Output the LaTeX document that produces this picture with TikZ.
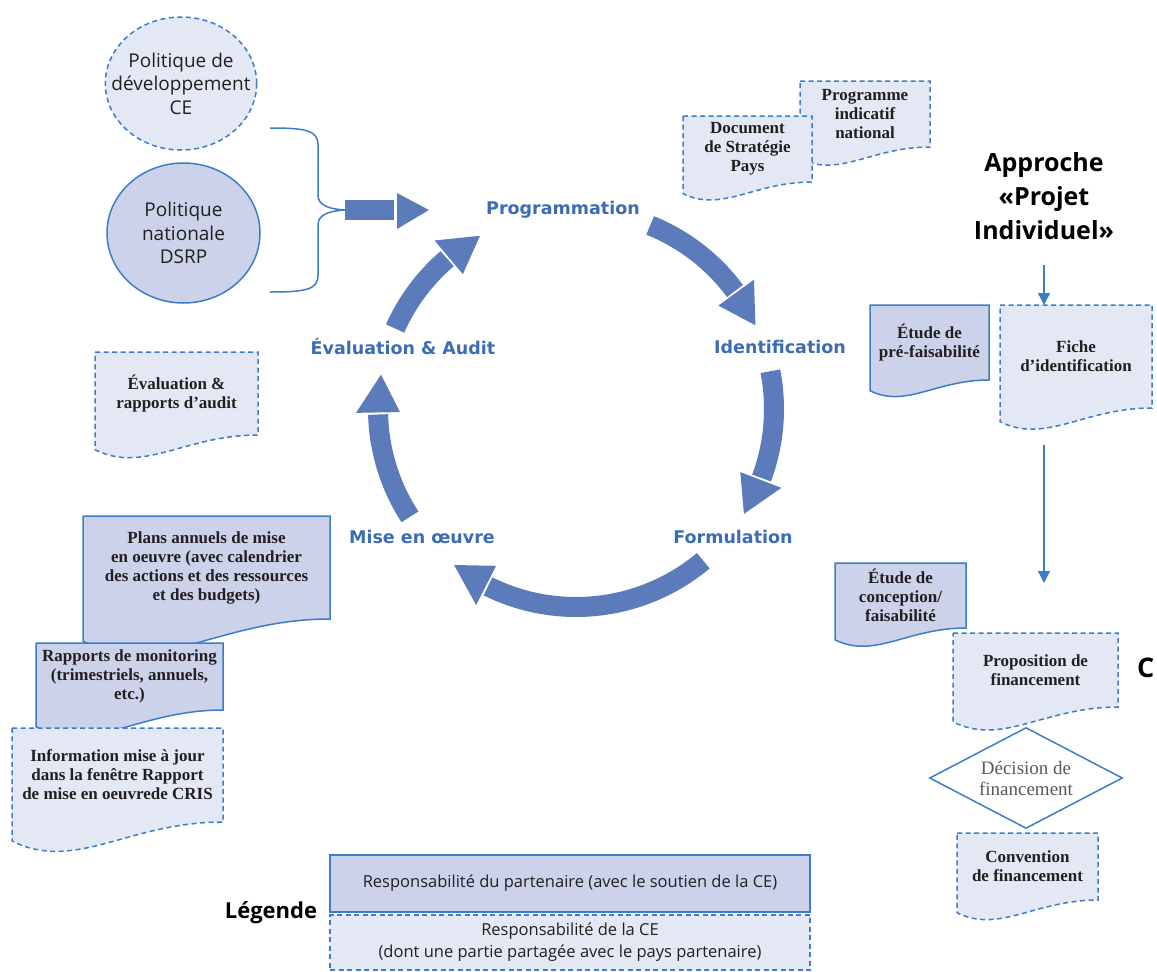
\documentclass[tikz,border=0pt]{standalone}
\usepackage{fontspec}
\setmainfont{Liberation Serif}
\setsansfont{Open Sans}
\newfontfamily\phasefont{DejaVu Sans}
\usepackage{tikz}
\usetikzlibrary{arrows.meta, shapes.geometric, backgrounds}
\usetikzlibrary{positioning, calc}

\definecolor{cycblue}{HTML}{5B7BBA}
\definecolor{labblue}{HTML}{3C6CB4}
\definecolor{lineblue}{HTML}{3D7CC9}
\definecolor{lightfill}{HTML}{E4E8F4}
\definecolor{darkfill}{HTML}{CBD2EA}
\definecolor{inktext}{HTML}{231F20}

\tikzset{
        docnode/.style={rectangle, inner sep=0pt, outer sep=0pt, align=center, text=inktext, font=\bfseries\fontsize{17}{19}\selectfont},
        docdash/.style={draw=lineblue, fill=lightfill, line width=1.5pt, dash pattern=on 5pt off 3.5pt},
        docfull/.style={draw=lineblue, fill=darkfill, line width=1.5pt},
        policy/.style={ellipse, draw=lineblue, line width=1.5pt, align=center, inner sep=-16pt, text=inktext, font=\sffamily\fontsize{19}{23.5}\selectfont},
        phase/.style={inner sep=0pt, text=labblue, font=\phasefont\bfseries\fontsize{17.5}{20}\selectfont},
        legbox/.style={rectangle, minimum width=480pt, align=center, text=inktext, font=\sffamily\fontsize{16.5}{22}\selectfont},
        cycshaft/.style={draw=cycblue, line width=20pt},
        flow/.style={draw=lineblue, line width=1.3pt, -{Triangle[width=12pt,length=12pt]}}
    }

% document outline with a wavy bottom, drawn behind node #1
\newcommand{\docshape}[2]{%
    \begin{scope}[on background layer]
    \path[#2] let \p1=(#1.north west), \p2=(#1.south east), \n1={\x2-\x1} in
        (\x1,\y1) -- (\x2,\y1) -- (\x2,\y2)
        .. controls ({\x2-0.45*\n1},\y2) and ({\x1+0.3*\n1},{\y2-0.24*\n1}) .. ({\x1},{\y2-0.09*\n1}) -- cycle;
    \end{scope}}

\begin{document}
\begin{tikzpicture}[x=1pt, y=-1pt]
    \useasboundingbox (0,0) rectangle (1157,972);

    % policies feeding the cycle
    \node[policy, docdash, minimum width=150pt, minimum height=133pt] (polce) at (181,83.5) {Politique de\\développement\\CE};
    \node[policy, fill=darkfill, minimum width=153pt, minimum height=140pt] (polnat) at (183.5,233) {Politique\\nationale\\DSRP};

    \coordinate (bracetop) at (270,128);
    \coordinate (bracebot) at (270,292);
    \coordinate (bracetip) at (345,210);
    \draw[lineblue, line width=1.5pt] (bracetop) .. controls (305,128) and (318,130) .. (318,145) -- (318,195)
        .. controls (318,206) and (330,209) .. (bracetip) .. controls (330,211) and (318,214) .. (318,225)
        -- (318,275) .. controls (318,290) and (305,292) .. (bracebot);
    \fill[cycblue] (bracetip) ++(0,-10) rectangle ++(49,20);
    \fill[cycblue] (397,193) -- (429,210) -- (397,229) -- cycle;

    % project cycle
    \node[phase] (prog) at (563,210) {Programmation};
    \node[phase] (ident) at (780,347) {Identification};
    \node[phase] (form) at (733,537) {Formulation};
    \node[phase] (mise) at (422,537) {Mise en œuvre};
    \node[phase] (eval) at (403,347) {Évaluation \& Audit};

    \coordinate (hub) at (576,409);
    \foreach \s/\e in {-68/-25, -11/32, 50/128, 147/190, 204/241} {
        \draw[cycshaft] ($(hub)+(\s:198)$) arc[start angle=\s, end angle={\e-11.6}, radius=198];
        \fill[cycblue] ($(hub)+(\e:198)$) -- ($(hub)+({\e-11}:220)$) -- ($(hub)+({\e-11}:176)$) -- cycle;
    }

    % documents of programming and evaluation
    \node[docnode, minimum width=130pt, minimum height=66pt] (pin) at (865,114) {Programme\\indicatif\\national};
    \docshape{pin}{docdash}
    \node[docnode, minimum width=129pt, minimum height=66pt] (dsp) at (747.5,149) {Document\\de Stratégie\\Pays};
    \docshape{dsp}{docdash}
    \node[docnode, minimum width=163pt, minimum height=83pt] (evalrep) at (176.5,393.5) {Évaluation \&\\rapports d’audit};
    \docshape{evalrep}{docdash}

    % implementation documents
    \node[docnode, minimum width=247pt, minimum height=103pt] (plans) at (206.5,567.5) {Plans annuels de mise\\en oeuvre (avec calendrier\\des actions et des ressources\\et des budgets)};
    \docshape{plans}{docfull}
    \node[docnode, minimum width=187pt, minimum height=67pt] (monit) at (129.5,676.5) {Rapports de monitoring\\(trimestriels, annuels,\\etc.)};
    \docshape{monit}{docfull}
    \node[docnode, minimum width=211pt, minimum height=94pt] (cris) at (117.5,775) {Information mise à jour\\dans la fenêtre Rapport\\de mise en oeuvrede CRIS};
    \docshape{cris}{docdash}

    % individual project approach
    \node[inner sep=0pt, align=center, text=black, font=\sffamily\bfseries\fontsize{25}{34}\selectfont] (approche) at (1044,196) {Approche\\«Projet\\Individuel»};
    \node[docnode, minimum width=119pt, minimum height=75pt] (prefeas) at (929.5,342.5) {Étude de\\pré-faisabilité};
    \docshape{prefeas}{docfull}
    \node[docnode, minimum width=152pt, minimum height=103pt] (fiche) at (1076,356.5) {Fiche\\d’identification};
    \docshape{fiche}{docdash}
    \node[docnode, minimum width=131pt, minimum height=65pt] (feas) at (900.5,595.5) {Étude de\\conception/\\faisabilité};
    \docshape{feas}{docfull}
    \node[docnode, minimum width=165pt, minimum height=74pt] (propo) at (1035.5,670) {Proposition de\\financement};
    \docshape{propo}{docdash}
    \node[diamond, draw=lineblue, line width=1.5pt, fill=white, aspect=1.9, minimum width=193pt, minimum height=101pt, inner sep=0pt, align=center, text=black!65, font=\fontsize{19}{21}\selectfont] (decision) at (1026,778) {Décision de\\financement};
    \node[docnode, minimum width=141pt, minimum height=67pt] (conv) at (1027.5,866.5) {Convention\\de financement};
    \docshape{conv}{docdash}
    \node[inner sep=0pt, anchor=west, text=black, font=\sffamily\bfseries\fontsize{27}{30}\selectfont] (cut) at (1137,668) {C};

    \draw[flow] ($(approche.south)+(0,25)$) -- (approche.south |- fiche.north);
    \draw[flow] ($(fiche.south -| approche.south)+(0,37)$) -- ($(propo.north -| approche.south)+(0,-50)$);

    % legend
    \node[legbox, docfull, minimum height=57pt] (legpart) at (570,883.5) {Responsabilité du partenaire (avec le soutien de la CE)};
    \node[legbox, docdash, minimum height=55pt] (legce) at (570,942.5) {Responsabilité de la CE\\(dont une partie partagée avec le pays partenaire)};
    \node[inner sep=0pt, text=black, font=\sffamily\bfseries\fontsize{22}{26}\selectfont, left=12pt of legpart.south west] (legtitle) {Légende};

\end{tikzpicture}
\end{document}
